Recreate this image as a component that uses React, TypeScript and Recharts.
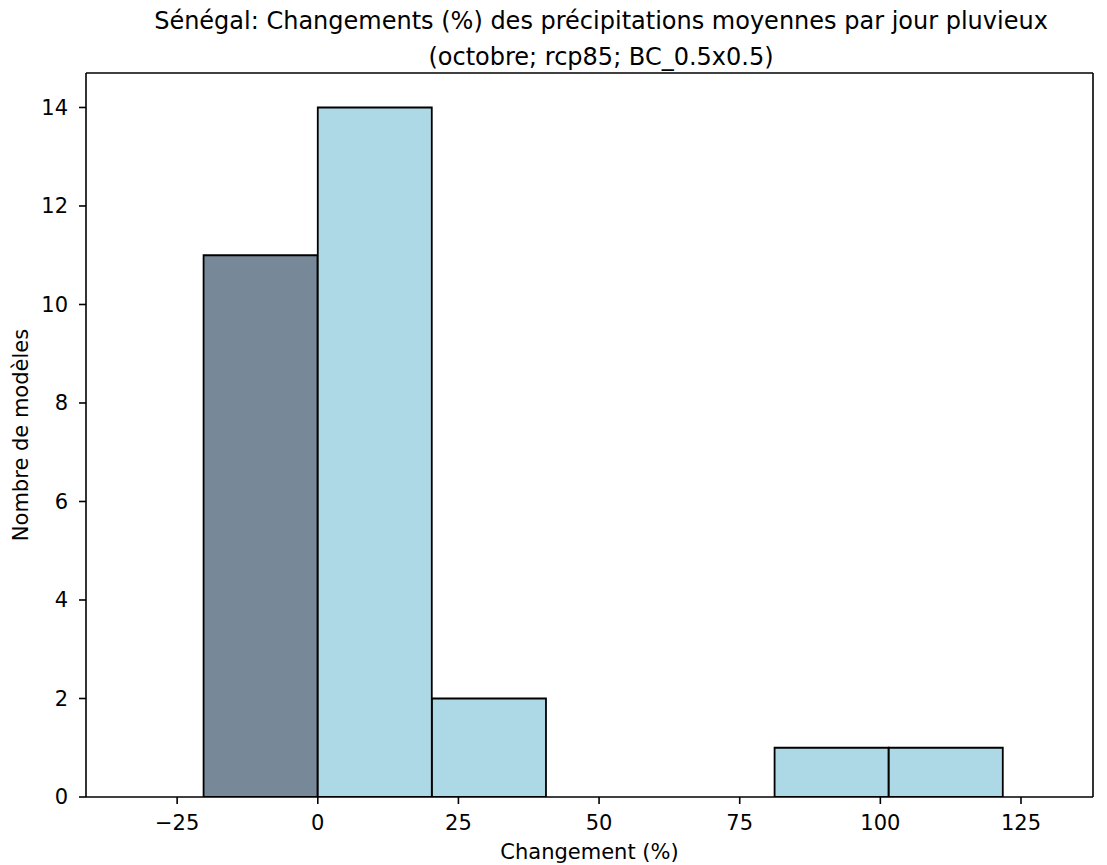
import React from 'react';
import { BarChart, Bar, XAxis, YAxis, Cell, Label, ReferenceLine } from 'recharts';

const binCenters = [-10.15, 10.15, 30.45, 50.75, 71.05, 91.35, 111.65];
const counts = [11, 14, 2, 0, 0, 1, 1];
const binColors = ['#778899', '#ADD8E6', '#ADD8E6', '#ADD8E6', '#ADD8E6', '#ADD8E6', '#ADD8E6'];
const xTicks = [-25, 0, 25, 50, 75, 100, 125];
const yTicks = [0, 2, 4, 6, 8, 10, 12, 14];
const xDomain = [-41.2, 137.8];
const yDomain = [0, 14.7];
const titleLines = [
  'Sénégal: Changements (%) des précipitations moyennes par jour pluvieux',
  '(octobre; rcp85; BC_0.5x0.5)',
];
const titleBaselines = [30, 65.5];

const data = binCenters.map((x, i) => ({ x, count: counts[i] }));

const FONT = '"DejaVu Sans", sans-serif';
const TICK_FONT = 21;

export default function App() {
  return (
    <div style={{ position: 'absolute', left: 0, top: 0, width: 1107, height: 865, background: '#fff', fontFamily: FONT }}>
      <BarChart
        width={1107}
        height={865}
        data={data}
        margin={{ top: 73, right: 14, bottom: 0, left: 0 }}
        barCategoryGap={0}
        barGap={0}
        style={{ position: 'absolute', left: 0, top: 0 }}
      >
        <XAxis
          dataKey="x"
          type="number"
          domain={xDomain}
          allowDataOverflow
          ticks={xTicks}
          height={68}
          stroke="#000"
          strokeWidth={1.6}
          tickSize={7}
          tickMargin={11}
          tick={{ fill: '#000', fontSize: TICK_FONT, fontFamily: FONT }}
          tickFormatter={(v: number) => (v < 0 ? '\u2212' + Math.abs(v) : String(v))}
        >
          <Label value="Changement (%)" position="center" dy={20.5} style={{ fill: '#000', fontSize: TICK_FONT, fontFamily: FONT }} />
        </XAxis>
        <YAxis
          type="number"
          domain={yDomain}
          allowDataOverflow
          ticks={yTicks}
          width={86}
          stroke="#000"
          strokeWidth={1.6}
          tickSize={7}
          tickMargin={11}
          tick={{ fill: '#000', fontSize: TICK_FONT, fontFamily: FONT }}
        >
          <Label value="Nombre de modèles" position="center" angle={-90} dx={-22.5} style={{ fill: '#000', fontSize: TICK_FONT, fontFamily: FONT, textAnchor: 'middle' }} />
        </YAxis>
        <Bar dataKey="count" isAnimationActive={false} stroke="#000" strokeWidth={1.8}>
          {data.map((d, i) => (
            <Cell key={i} fill={binColors[i]} />
          ))}
        </Bar>
        <ReferenceLine y={yDomain[1]} stroke="#000" strokeWidth={1.6} />
        <ReferenceLine x={xDomain[1]} stroke="#000" strokeWidth={1.6} />
      </BarChart>
      {titleLines.map((t, i) => (
        <div
          key={i}
          style={{
            position: 'absolute',
            left: 101,
            top: titleBaselines[i] - 22.7,
            width: 1000,
            textAlign: 'center',
            fontSize: 24,
            lineHeight: '28.8px',
            color: '#000',
            fontFamily: FONT,
            whiteSpace: 'nowrap',
          }}
        >
          {t}
        </div>
      ))}
    </div>
  );
}
